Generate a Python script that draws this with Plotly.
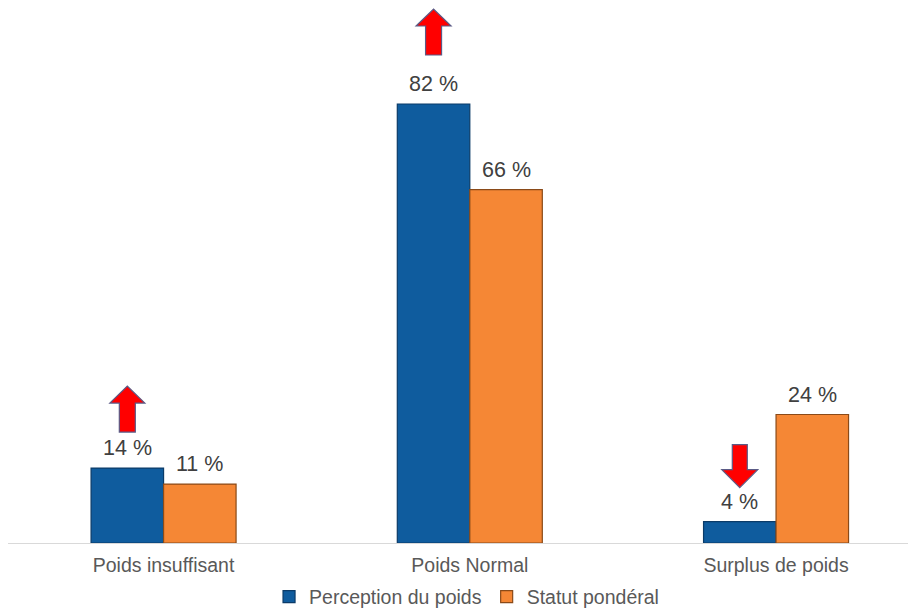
import plotly.graph_objects as go

categories = ["Poids insuffisant", "Poids Normal", "Surplus de poids"]
series_names = ["Perception du poids", "Statut pondéral"]
perception = [14, 82, 4]
statut = [11, 66, 24]
# arrows drawn above the "Perception du poids" bars
arrow_dirs = ["up", "up", "down"]

colors = ["#0f5c9e", "#f58735"]
line_colors = ["#0b3b68", "#8a4a18"]
FONT = "Liberation Sans, Arial, sans-serif"

x = list(range(len(categories)))
bargap = 0.5265
group_w = 1 - bargap
bar_w = group_w / 2

fig = go.Figure()
for name, vals, col, lc in zip(series_names, [perception, statut], colors, line_colors):
    fig.add_trace(go.Bar(
        x=x, y=vals, name=name,
        marker=dict(color=col, line=dict(color=lc, width=1.2)),
    ))

annotations = []
for k, vals in enumerate([perception, statut]):
    off = -bar_w / 2 if k == 0 else bar_w / 2
    for i, v in enumerate(vals):
        annotations.append(dict(
            x=i + off, y=v, xref="x", yref="y", text=f"{v} %",
            showarrow=False, yanchor="bottom", yshift=6,
            font=dict(family=FONT, size=21.5, color="#404040"),
        ))

shapes = []
arrow_gap = {"up": [36, 49, 36], "down": [34, 34, 34]}
for i, (v, d) in enumerate(zip(perception, arrow_dirs)):
    b = arrow_gap[d][i]
    if d == "up":
        pts = [(-8, b), (8, b), (8, b + 29), (17.5, b + 29), (0, b + 46),
               (-17.5, b + 29), (-8, b + 29)]
    else:
        pts = [(0, b), (18, b + 18), (7.5, b + 18), (7.5, b + 43),
               (-7.5, b + 43), (-7.5, b + 18), (-18, b + 18)]
    path = "M" + " L".join(f"{px},{py}" for px, py in pts) + " Z"
    shapes.append(dict(
        type="path", path=path, xref="x", yref="y",
        xsizemode="pixel", ysizemode="pixel",
        xanchor=i - bar_w / 2, yanchor=v,
        fillcolor="#ff0000", line=dict(color="#5b5b86", width=1.2),
    ))

fig.update_layout(
    width=908, height=602,
    margin=dict(l=0, r=0, t=0, b=67, autoexpand=False),
    paper_bgcolor="white", plot_bgcolor="white",
    barmode="group", bargap=bargap, bargroupgap=0,
    font=dict(family=FONT, color="#595959"),
    xaxis=dict(
        range=[-0.508, 2.457], tickvals=x, ticktext=categories,
        showline=True, linecolor="#d9d9d9", linewidth=1,
        showgrid=False, zeroline=False,
        ticks="outside", ticklen=5, tickcolor="rgba(0,0,0,0)",
        tickfont=dict(family=FONT, size=19.5, color="#595959"),
    ),
    yaxis=dict(range=[0, 99.93], visible=False),
    legend=dict(
        orientation="h", x=0.505, xanchor="center", y=-0.1009, yanchor="middle",
        font=dict(family=FONT, size=19.5, color="#595959"),
        itemwidth=30,
    ),
    annotations=annotations,
    shapes=shapes,
    showlegend=True,
)

fig.write_html("out.html")
